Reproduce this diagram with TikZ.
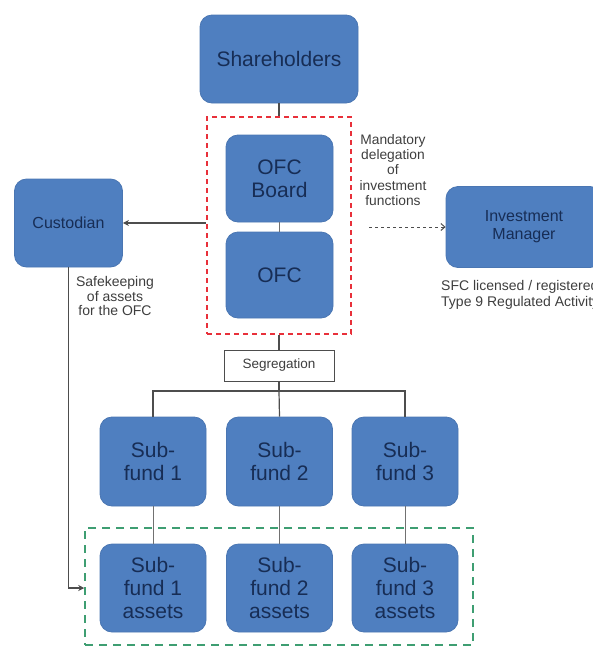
\documentclass[tikz,border=0pt]{standalone}
\usepackage{fontspec}
\setmainfont{Liberation Sans}
\usetikzlibrary{arrows.meta}
\definecolor{boxblue}{HTML}{4F7FC0}
\definecolor{boxedge}{HTML}{4A76B2}
\definecolor{boxtext}{HTML}{172D55}
\definecolor{linegray}{HTML}{4D4D4D}
\definecolor{redash}{HTML}{E8303A}
\definecolor{greendash}{HTML}{3E9E72}
\tikzset{
  bluebox/.style={draw=boxedge, line width=0.8pt, fill=boxblue, rounded corners=12pt,
    text=boxtext, align=center, inner sep=0pt},
  bigtext/.style={font=\fontsize{21}{23}\selectfont},
  midtext/.style={font=\fontsize{16}{18}\selectfont},
  smalltext/.style={font=\fontsize{13.8}{15.3}\selectfont, text=linegray!80!black, align=center, inner sep=0pt},
  conn/.style={draw=linegray, line width=1.2pt},
  thinconn/.style={draw=linegray!80, line width=0.8pt},
  tip/.style={-{Stealth[length=6pt,width=6pt]}}
}
\begin{document}
\begin{tikzpicture}[x=1pt,y=-1pt]
\useasboundingbox (0,0) rectangle (593,646);
\clip (0,0) rectangle (593,646);
% frames
\node[draw=redash, dash pattern=on 5pt off 4pt, line width=1.7pt, minimum width=144pt, minimum height=217pt, inner sep=0pt] (redbox) at (279,225.5) {};
\node[draw=greendash, dash pattern=on 8pt off 6pt, line width=1.5pt, minimum width=388pt, minimum height=117pt, inner sep=0pt] (greenbox) at (279,586.5) {};
% nodes
\node[bluebox, bigtext, minimum width=158pt, minimum height=88pt] (sh) at (279,59) {Shareholders};
\node[bluebox, bigtext, minimum width=107pt, minimum height=87pt] (board) at (279.5,178.5) {OFC\\Board};
\node[bluebox, bigtext, minimum width=107pt, minimum height=86pt] (ofc) at (279.5,275) {OFC};
\node[bluebox, midtext, minimum width=108pt, minimum height=88pt] (cust) at (68.5,223) {Custodian};
\node[bluebox, midtext, minimum width=156pt, minimum height=81pt] (im) at (524,227) {Investment\\Manager};
\node[draw=linegray, line width=1pt, fill=white, minimum width=110pt, minimum height=31pt, inner sep=0pt,
  font=\fontsize{13.5}{15}\selectfont, text=linegray!80!black] (seg) at (279,365.5) {Segregation};
\node[bluebox, bigtext, minimum width=106pt, minimum height=89pt] (sf1) at (153,461.5) {Sub-\\fund 1};
\node[bluebox, bigtext, minimum width=106pt, minimum height=89pt] (sf2) at (279.5,461.5) {Sub-\\fund 2};
\node[bluebox, bigtext, minimum width=106pt, minimum height=89pt] (sf3) at (405,461.5) {Sub-\\fund 3};
\node[bluebox, bigtext, minimum width=106pt, minimum height=88pt] (a1) at (153,588) {Sub-\\fund 1\\assets};
\node[bluebox, bigtext, minimum width=106pt, minimum height=88pt] (a2) at (279.5,588) {Sub-\\fund 2\\assets};
\node[bluebox, bigtext, minimum width=106pt, minimum height=88pt] (a3) at (405,588) {Sub-\\fund 3\\assets};
% labels
\node[smalltext] (mand) at (393,170) {Mandatory\\delegation\\of\\investment\\functions};
\node[smalltext, font=\fontsize{14}{14.6}\selectfont] (safe) at (115,296) {Safekeeping\\of assets\\for the OFC};
\node[smalltext, font=\fontsize{14}{16}\selectfont, align=left, anchor=west] (sfc) at (441,295) {SFC licensed / registered\\Type 9 Regulated Activity};
% connectors
\draw[conn] (sh.south) -- (redbox.north);
\draw[thinconn] (board.south) -- (ofc.north);
\draw[conn, tip] (redbox.west |- cust.east) -- (cust.east);
\draw[conn, dashed, line width=1pt, -{Straight Barb[length=4pt,width=7pt]}] (369,227) coordinate (dstart) -- (im.west);
\draw[conn] (redbox.south) -- (seg.north);
\coordinate (bus) at (279,391);
\draw[conn] (seg.south) -- (bus);
\draw[conn] (sf1.north) |- (bus) -| (sf3.north);
\draw[conn] (bus) -- (sf2.north);
\draw[thinconn] (sf1.south) -- (a1.north);
\draw[thinconn] (sf2.south) -- (a2.north);
\draw[thinconn] (sf3.south) -- (a3.north);
\draw[conn, tip] (cust.south) |- (greenbox.west |- 0,588);
\end{tikzpicture}
\end{document}
